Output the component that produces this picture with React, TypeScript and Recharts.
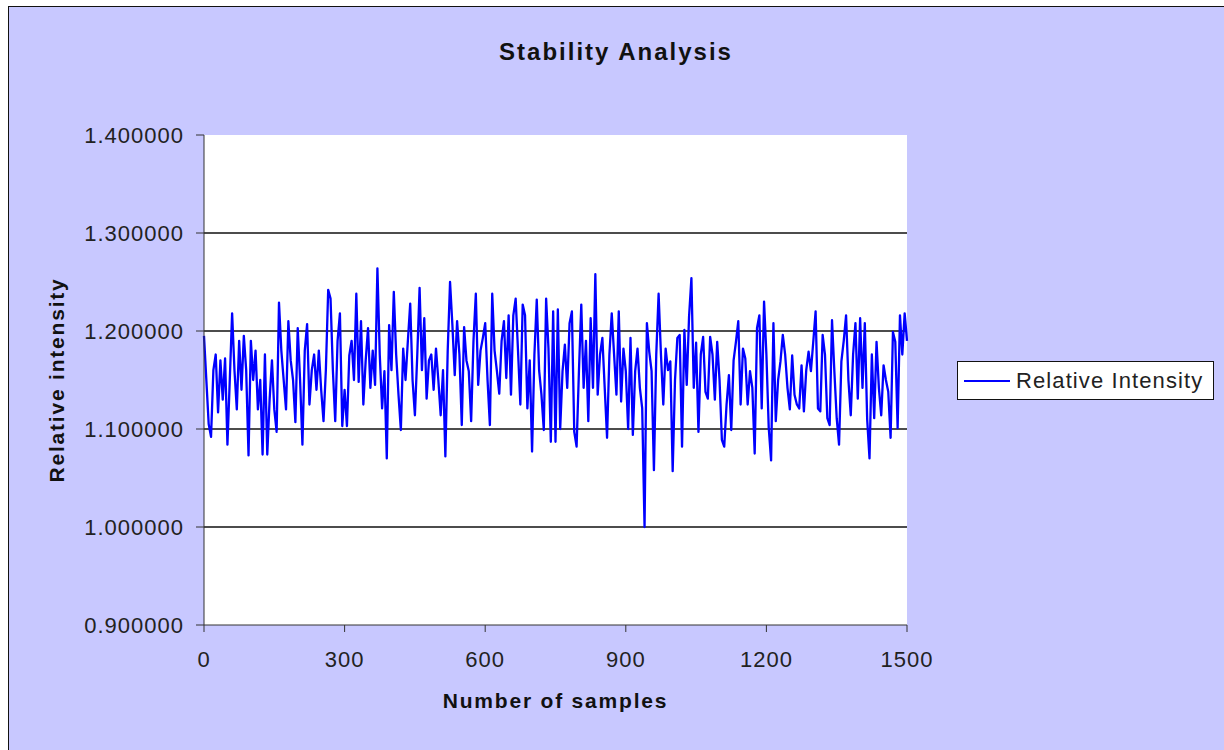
import React from "react";
import {
  LineChart,
  Line,
  XAxis,
  YAxis,
  CartesianGrid,
  Legend
} from "recharts";

// relative intensity, every 5 samples
const intensity0to245 = [
  1.195, 1.15, 1.105, 1.092, 1.16, 1.176, 1.117, 1.17, 1.13, 1.172,
  1.084, 1.15, 1.218, 1.16, 1.12, 1.19, 1.14, 1.195, 1.16, 1.073,
  1.19, 1.15, 1.18, 1.12, 1.15, 1.074, 1.176, 1.074, 1.13, 1.17,
  1.12, 1.097, 1.229, 1.18, 1.15, 1.12, 1.21, 1.17, 1.15, 1.107,
  1.203, 1.15, 1.084, 1.18, 1.207, 1.125, 1.16, 1.176, 1.14, 1.18
];
const intensity250to495 = [
  1.14, 1.108, 1.16, 1.242, 1.233, 1.16, 1.108, 1.19, 1.218, 1.103,
  1.14, 1.103, 1.175, 1.19, 1.15, 1.238, 1.148, 1.21, 1.125, 1.17,
  1.203, 1.142, 1.18, 1.145, 1.264, 1.176, 1.121, 1.159, 1.07, 1.206,
  1.16, 1.24, 1.176, 1.135, 1.099, 1.182, 1.15, 1.19, 1.228, 1.15,
  1.114, 1.175, 1.244, 1.16, 1.213, 1.131, 1.17, 1.176, 1.14, 1.182
];
const intensity500to745 = [
  1.15, 1.114, 1.16, 1.072, 1.18, 1.25, 1.206, 1.155, 1.21, 1.176,
  1.104, 1.204, 1.17, 1.159, 1.108, 1.19, 1.238, 1.145, 1.18, 1.193,
  1.208, 1.15, 1.104, 1.238, 1.18, 1.159, 1.136, 1.19, 1.21, 1.152,
  1.216, 1.135, 1.216, 1.233, 1.18, 1.125, 1.227, 1.216, 1.121, 1.17,
  1.077, 1.176, 1.232, 1.16, 1.135, 1.099, 1.233, 1.182, 1.087, 1.22
];
const intensity750to995 = [
  1.087, 1.222, 1.1, 1.159, 1.186, 1.142, 1.208, 1.22, 1.097, 1.082,
  1.159, 1.227, 1.142, 1.19, 1.108, 1.213, 1.142, 1.258, 1.135, 1.176,
  1.193, 1.142, 1.091, 1.176, 1.218, 1.176, 1.135, 1.22, 1.128, 1.182,
  1.159, 1.1, 1.193, 1.094, 1.159, 1.182, 1.142, 1.121, 1.0, 1.208,
  1.179, 1.159, 1.058, 1.176, 1.238, 1.176, 1.125, 1.182, 1.16, 1.169
];
const intensity1000to1245 = [
  1.057, 1.15, 1.193, 1.196, 1.082, 1.201, 1.145, 1.215, 1.254, 1.142,
  1.188, 1.097, 1.176, 1.194, 1.138, 1.131, 1.194, 1.176, 1.13, 1.189,
  1.15, 1.089, 1.082, 1.125, 1.155, 1.099, 1.17, 1.189, 1.21, 1.125,
  1.182, 1.172, 1.125, 1.159, 1.142, 1.075, 1.203, 1.216, 1.121, 1.23,
  1.176, 1.101, 1.068, 1.208, 1.108, 1.15, 1.169, 1.196, 1.176, 1.142
];
const intensity1250to1500 = [
  1.12, 1.175, 1.135, 1.125, 1.121, 1.165, 1.118, 1.16, 1.179, 1.159,
  1.189, 1.22, 1.121, 1.118, 1.196, 1.176, 1.111, 1.104, 1.211, 1.159,
  1.111, 1.084, 1.169, 1.19, 1.216, 1.15, 1.114, 1.176, 1.208, 1.131,
  1.213, 1.142, 1.208, 1.11, 1.07, 1.176, 1.111, 1.189, 1.142, 1.114,
  1.165, 1.15, 1.138, 1.091, 1.199, 1.189, 1.101, 1.216, 1.176, 1.218,
  1.19
];

const sampleStep = 5;
const xTicks = [0, 300, 600, 900, 1200, 1500];
const yTicks = [0.9, 1.0, 1.1, 1.2, 1.3, 1.4];
const gridValues = [1.0, 1.1, 1.2, 1.3];

const intensity = [
  ...intensity0to245,
  ...intensity250to495,
  ...intensity500to745,
  ...intensity750to995,
  ...intensity1000to1245,
  ...intensity1250to1500
];

const data = intensity.map((v, i) => ({ sample: i * sampleStep, value: v }));

const FONT = "'Liberation Sans', Arial, sans-serif";
const BG = "#C8C8FF";

function LegendBox(props: any) {
  const item = props.payload && props.payload[0];
  if (!item) return null;
  return (
    <div
      style={{
        boxSizing: "border-box",
        width: 257,
        height: 39,
        background: "#fff",
        border: "1.5px solid #111",
        display: "flex",
        alignItems: "center",
        fontFamily: FONT
      }}
    >
      <svg width={56} height={10} style={{ flex: "none" }}>
        <line x1={6} y1={5} x2={52} y2={5} stroke="#0000FF" strokeWidth={2} />
      </svg>
      <span style={{ fontSize: 22, letterSpacing: 1.1, color: "#222", marginLeft: 2 }}>
        {item.value}
      </span>
    </div>
  );
}

export default function App() {
  return (
    <div
      style={{
        position: "absolute",
        left: 0,
        top: 0,
        width: 1224,
        height: 750,
        overflow: "hidden",
        background: "#fff"
      }}
    >
      <div
        style={{
          position: "absolute",
          left: 8,
          top: 6,
          width: 1240,
          height: 780,
          background: BG,
          border: "1.5px solid #111"
        }}
      />
      <div
        style={{
          position: "absolute",
          left: 616,
          top: 40,
          transform: "translateX(-50%)",
          fontFamily: FONT,
          fontWeight: "bold",
          fontSize: 24,
          lineHeight: "24px",
          letterSpacing: 2,
          color: "#111",
          whiteSpace: "nowrap"
        }}
      >
        Stability Analysis
      </div>
      <div style={{ position: "absolute", left: 0, top: 0 }}>
        <LineChart
          width={1224}
          height={750}
          data={data}
          margin={{ top: 135, right: 317, bottom: 0, left: 0 }}
        >
          <CartesianGrid
            vertical={false}
            horizontalValues={gridValues}
            stroke="#111"
            strokeWidth={1.3}
            fill="#fff"
            fillOpacity={1}
          />
          <XAxis
            dataKey="sample"
            type="number"
            domain={[0, 1500]}
            ticks={xTicks}
            height={125}
            tickSize={7}
            tickMargin={19}
            stroke="#333"
            tick={{ fill: "#222", fontSize: 22, fontFamily: FONT, letterSpacing: 1 }}
            label={{
              value: "Number of samples",
              position: "insideTop",
              offset: 68,
              style: {
                fontFamily: FONT,
                fontWeight: "bold",
                fontSize: 21,
                letterSpacing: 1.8,
                fill: "#111"
              }
            }}
          />
          <YAxis
            type="number"
            domain={[0.9, 1.4]}
            ticks={yTicks}
            width={204}
            tickSize={8}
            tickMargin={12}
            stroke="#333"
            tickFormatter={(v: number) => v.toFixed(6)}
            tick={{ fill: "#222", fontSize: 22, fontFamily: FONT, letterSpacing: 1 }}
            label={{
              value: "Relative intensity",
              angle: -90,
              position: "insideLeft",
              offset: 57,
              style: {
                textAnchor: "middle",
                fontFamily: FONT,
                fontWeight: "bold",
                fontSize: 21,
                letterSpacing: 1.8,
                fill: "#111"
              }
            }}
          />
          <Legend
            layout="vertical"
            align="center"
            verticalAlign="middle"
            wrapperStyle={{ left: 957, top: 361, width: 257, height: 39 }}
            content={(p: any) => <LegendBox {...p} />}
          />
          <Line
            type="linear"
            dataKey="value"
            name="Relative Intensity"
            stroke="#0000FF"
            strokeWidth={2.3}
            strokeLinejoin="round"
            dot={false}
            activeDot={false}
            isAnimationActive={false}
          />
        </LineChart>
      </div>
    </div>
  );
}
